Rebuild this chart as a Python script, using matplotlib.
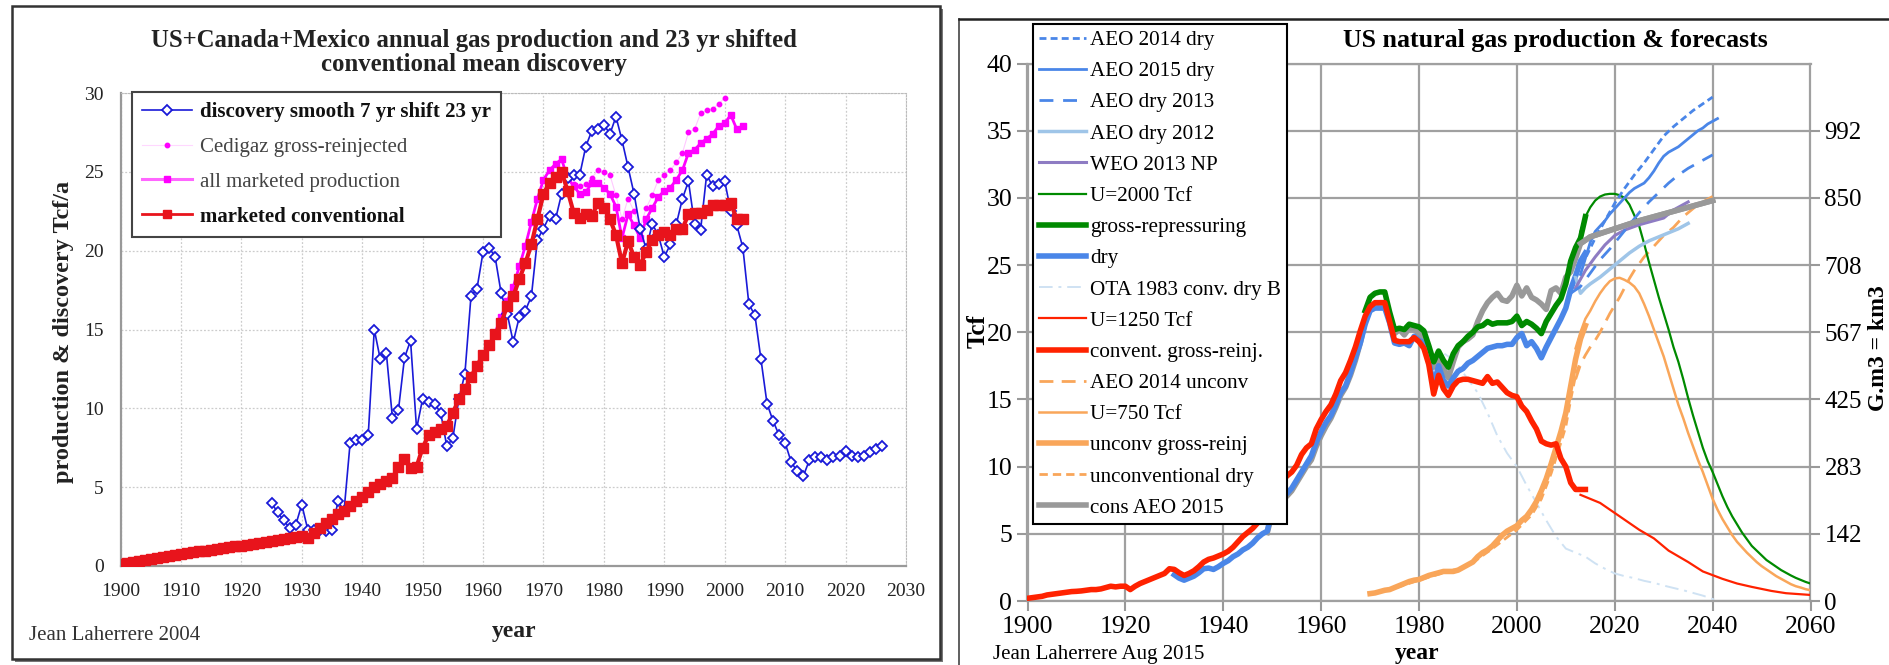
import numpy as np
import matplotlib
matplotlib.use("Agg")
import matplotlib.pyplot as plt
from matplotlib.lines import Line2D
from matplotlib.patches import Rectangle

plt.rcParams['font.family'] = ['Liberation Serif', 'DejaVu Serif']

# ---------------- LEFT PANEL DATA (Tcf/a) ----------------
disc_years = list(range(1925, 2027))
disc_vals = [4.0, 3.4, 2.9, 2.4, 2.6, 3.9, 2.3, 2.3, 2.3, 2.2,
             2.3, 4.1, 3.5, 7.8, 8.0, 8.0, 8.3, 15.0, 13.1, 13.5,
             9.4, 9.9, 13.2, 14.3, 8.7, 10.6, 10.4, 10.3, 9.7, 7.6,
             8.1, 10.6, 12.2, 17.1, 17.6, 19.9, 20.2, 19.6, 17.3, 16.0,
             14.2, 15.8, 16.2, 17.1, 20.7, 21.4, 22.2, 22.0, 23.6, 24.6,
             24.8, 24.8, 26.6, 27.6, 27.7, 28.0, 27.4, 28.5, 27.0, 25.3,
             23.6, 21.4, 20.1, 21.7, 21.0, 19.6, 20.4, 21.7, 23.3, 24.4,
             21.7, 21.3, 24.8, 24.1, 24.2, 24.4, 22.5, 21.6, 20.2, 16.6,
             15.9, 13.1, 10.3, 9.2, 8.3, 7.8, 6.6, 6.0, 5.7, 6.7,
             6.9, 6.9, 6.7, 6.9, 7.0, 7.3, 7.0, 6.9, 7.0, 7.2,
             7.4, 7.6]

conv_years = list(range(1900, 2004))
conv_vals = [0.15, 0.2, 0.27, 0.33, 0.4, 0.46, 0.52, 0.58, 0.64, 0.7,
             0.76, 0.82, 0.88, 0.93, 0.98, 1.03, 1.08, 1.13, 1.18, 1.24,
             1.3, 1.35, 1.41, 1.46, 1.52, 1.58, 1.64, 1.7, 1.77, 1.83,
             1.9, 1.8, 2.1, 2.4, 2.7, 3.0, 3.3, 3.5, 3.8, 4.1,
             4.4, 4.7, 5.0, 5.2, 5.4, 5.6, 6.3, 6.8, 6.2, 6.3,
             7.5, 8.3, 8.5, 8.7, 8.9, 9.7, 10.6, 11.2, 12.0, 12.7,
             13.4, 14.0, 14.7, 15.4, 16.5, 17.1, 18.2, 19.2, 20.4, 22.0,
             23.6, 24.3, 24.7, 25.0, 23.8, 22.4, 22.1, 22.3, 22.2, 23.0,
             22.7, 22.0, 21.0, 19.2, 20.6, 19.6, 19.1, 19.9, 20.7, 21.0,
             21.2, 21.0, 21.4, 21.4, 22.3, 22.4, 22.4, 22.6, 22.9, 22.9,
             22.9, 23.0, 22.0, 22.0]

allmkt_years = list(range(1962, 2004))
allmkt_vals = [14.8, 15.8, 16.8, 17.7, 19.0, 20.3, 21.8, 23.3, 24.5, 25.1,
               25.5, 25.8, 24.6, 24.1, 23.6, 23.7, 24.3, 24.3, 24.0, 23.6,
               22.8, 20.8, 22.3, 21.6, 20.8, 22.0, 22.7, 23.4, 23.8, 24.0,
               24.5, 25.1, 26.2, 26.4, 26.8, 27.1, 27.4, 27.9, 28.1, 28.6,
               27.7, 27.9]

cedigaz_years = list(range(1975, 2001))
cedigaz_vals = [24.2, 24.1, 24.2, 24.6, 25.1, 25.0, 24.8, 23.5, 22.0, 23.3,
                22.5, 21.5, 22.7, 23.5, 24.5, 24.8, 25.1, 25.6, 26.2, 27.5,
                27.7, 28.7, 28.9, 29.0, 29.3, 29.7]

left_xticks = list(range(1900, 2031, 10))
left_yticks = [0, 5, 10, 15, 20, 25, 30]

# ---------------- RIGHT PANEL DATA (Tcf) ----------------
red_years = list(range(1900, 2015))
red_vals = [0.2, 0.25, 0.3, 0.35, 0.45, 0.5, 0.55, 0.6, 0.65, 0.7,
            0.72, 0.75, 0.8, 0.85, 0.85, 0.9, 1.0, 1.1, 1.05, 1.1,
            1.1, 0.85, 1.1, 1.3, 1.45, 1.6, 1.75, 1.9, 2.05, 2.4,
            2.35, 2.1, 1.9, 2.05, 2.25, 2.55, 2.9, 3.1, 3.2, 3.35,
            3.5, 3.7, 4.0, 4.4, 4.8, 5.1, 5.4, 5.8, 6.1, 6.3,
            7.4, 8.4, 8.9, 9.3, 9.6, 10.1, 10.9, 11.4, 11.7, 12.8,
            13.5, 14.1, 14.6, 15.4, 16.4, 17.0, 17.9, 18.9, 20.1, 21.2,
            21.9, 22.2, 22.2, 22.2, 20.8, 19.4, 19.3, 19.3, 19.3, 19.6,
            19.3, 18.8, 17.6, 15.4, 16.8, 15.8, 15.3, 16.0, 16.4, 16.5,
            16.5, 16.4, 16.3, 16.2, 16.7, 16.2, 16.3, 15.9, 15.5, 15.3,
            15.2, 14.5, 14.1, 13.4, 12.8, 11.9, 11.7, 11.6, 11.7, 10.6,
            10.0, 8.8, 8.3, 8.3, 8.3]

dry_years = list(range(1930, 2015))
dry_vals = [1.95, 1.7, 1.55, 1.7, 1.85, 2.1, 2.4, 2.45, 2.35, 2.55,
            2.8, 3.0, 3.3, 3.5, 3.8, 4.0, 4.3, 4.7, 5.0, 5.2,
            6.8, 7.3, 7.7, 8.0, 8.4, 9.0, 9.6, 10.2, 10.8, 11.8,
            12.6, 13.3, 13.8, 14.6, 15.5, 16.0, 17.0, 18.1, 19.2, 20.6,
            21.6, 21.8, 21.8, 21.8, 20.7, 19.2, 19.1, 19.2, 19.0, 19.7,
            19.4, 19.2, 17.8, 16.1, 17.5, 16.4, 16.0, 16.6, 17.1, 17.3,
            17.7, 17.9, 18.2, 18.5, 18.8, 18.9, 19.0, 19.0, 19.1, 19.1,
            19.6, 19.9, 19.0, 19.3, 18.8, 18.1, 18.9, 19.6, 20.3, 21.0,
            21.8, 23.2, 24.2, 25.3, 25.9]

gross_years = list(range(1969, 2015))
gross_vals = [21.6, 22.6, 22.9, 23.0, 23.0, 21.5, 20.2, 20.3, 20.2, 20.6,
              20.5, 20.4, 20.1, 19.0, 17.8, 18.6, 17.9, 17.4, 18.4, 19.0,
              19.3, 19.7, 20.0, 20.4, 20.5, 20.8, 20.6, 20.7, 20.7, 20.7,
              20.8, 21.2, 20.5, 20.8, 20.6, 20.3, 19.9, 20.8, 21.4, 22.0,
              22.5, 23.6, 25.3, 26.3, 27.0, 28.6]

cons_years = list(range(1949, 2014)) + [2015, 2020, 2025, 2030, 2035, 2040]
cons_vals = [5.1, 6.5, 7.1, 7.5, 7.8, 8.2, 8.8, 9.4, 10.0, 10.5,
             11.5, 12.3, 13.0, 13.6, 14.4, 15.3, 15.9, 16.8, 17.9, 19.2,
             20.8, 21.7, 22.1, 22.2, 22.2, 21.0, 19.9, 20.2, 19.8, 20.3,
             20.2, 19.9, 19.6, 18.6, 17.4, 18.1, 17.3, 16.6, 17.8, 18.9,
             19.3, 19.5, 19.8, 20.8, 21.6, 22.2, 22.6, 22.9, 22.4, 22.3,
             22.7, 23.5, 22.7, 23.3, 22.6, 22.4, 22.1, 21.7, 23.1, 23.3,
             22.9, 24.1, 24.5, 25.5, 26.6,
             27.1, 27.7, 28.3, 28.8, 29.3, 29.8]

uncg_years = list(range(1970, 2015))
uncg_vals = [0.55, 0.6, 0.7, 0.8, 0.85, 1.0, 1.15, 1.3, 1.45, 1.55,
             1.6, 1.75, 1.9, 2.0, 2.1, 2.2, 2.2, 2.2, 2.3, 2.5,
             2.7, 2.9, 3.3, 3.6, 3.8, 4.1, 4.5, 4.9, 5.2, 5.4,
             5.6, 6.0, 6.3, 6.8, 7.4, 8.2, 9.1, 10.2, 11.4, 12.6,
             14.0, 16.0, 18.0, 19.5, 20.5]

uncdry_years = [1970, 1975, 1980, 1985, 1990, 1995, 2000, 2003, 2005, 2007,
                2009, 2010, 2011, 2012, 2013]
uncdry_vals = [0.5, 0.95, 1.55, 2.1, 2.6, 3.9, 5.3, 6.4, 7.6, 9.5,
               11.8, 13.0, 15.0, 16.8, 17.8]

u750_years = list(range(2012, 2061))
u750_vals = [18.8, 20.0, 21.0, 21.6, 22.3, 22.9, 23.4, 23.8, 24.0, 24.05,
             23.9, 23.7, 23.4, 22.9, 22.1, 21.2, 20.2, 19.2, 18.2, 17.0,
             15.8, 14.6, 13.6, 12.5, 11.5, 10.5, 9.6, 8.6, 7.6, 6.8,
             6.1, 5.5, 4.9, 4.4, 4.0, 3.6, 3.25, 2.9, 2.6, 2.35,
             2.1, 1.85, 1.65, 1.45, 1.25, 1.1, 1.0, 0.88, 0.8]

u2000_years = list(range(2013, 2061))
u2000_vals = [27.5, 28.6, 29.3, 29.8, 30.1, 30.25, 30.3, 30.3, 30.2, 30.0,
              29.5, 28.7, 27.9, 26.6, 25.2, 23.9, 22.6, 21.4, 20.2, 18.9,
              17.8, 16.5, 15.1, 13.8, 12.6, 11.4, 10.4, 9.6, 8.7, 7.8,
              7.0, 6.3, 5.7, 5.1, 4.6, 4.1, 3.75, 3.4, 3.05, 2.8,
              2.55, 2.3, 2.1, 1.9, 1.72, 1.57, 1.42, 1.3]

u1250_years = [2013, 2017, 2021, 2025, 2028, 2031, 2035, 2038, 2042, 2045,
               2048, 2052, 2055, 2060]
u1250_vals = [7.9, 7.3, 6.3, 5.3, 4.66, 3.75, 2.9, 2.2, 1.65, 1.3,
              1.05, 0.75, 0.58, 0.45]

ota_years = [1980, 1982, 1984, 1986, 1988, 1990, 1992, 1994, 1996, 1998,
             2000, 2002, 2004, 2006, 2008, 2010, 2012, 2014, 2016, 2018,
             2020, 2022, 2024, 2026, 2028, 2030, 2032, 2034, 2036, 2038,
             2040, 2041]
ota_vals = [19.3, 19.0, 18.7, 18.2, 17.5, 16.5, 15.5, 14.0, 12.3, 11.0,
            10.0, 8.6, 7.3, 6.0, 4.8, 3.9, 3.6, 3.3, 2.8, 2.4,
            2.05, 1.85, 1.7, 1.5, 1.35, 1.15, 0.97, 0.8, 0.6, 0.4,
            0.15, 0.0]

aeo15_years = list(range(2013, 2042))
aeo15_vals = [24.3, 25.5, 26.7, 27.5, 27.9, 28.3, 28.8, 29.2, 29.6, 30.0,
              30.4, 30.7, 30.9, 31.1, 31.5, 32.0, 32.6, 33.1, 33.4, 33.6,
              33.8, 34.1, 34.4, 34.7, 35.0, 35.2, 35.5, 35.7, 35.9]

aeo14_years = [2012, 2014, 2016, 2018, 2020, 2022, 2024, 2026, 2028, 2030,
               2032, 2034, 2036, 2038, 2040]
aeo14_vals = [24.2, 25.5, 27.0, 28.3, 29.6, 30.7, 31.7, 32.6, 33.6, 34.6,
              35.3, 35.9, 36.5, 37.0, 37.5]

aeo13_years = [2011, 2013, 2015, 2017, 2019, 2021, 2023, 2025, 2027, 2029,
               2031, 2033, 2035, 2037, 2040]
aeo13_vals = [22.9, 23.4, 24.4, 25.4, 26.2, 27.1, 28.0, 28.9, 29.7, 30.4,
              31.1, 31.7, 32.2, 32.6, 33.2]

aeo12_years = [2012, 2013, 2014, 2015, 2017, 2019, 2021, 2023, 2025, 2027,
               2029, 2031, 2033, 2035]
aeo12_vals = [24.1, 22.9, 23.3, 23.6, 24.1, 24.7, 25.3, 25.9, 26.4, 26.8,
              27.1, 27.4, 27.7, 28.1]

weo_years = [2012, 2014, 2016, 2018, 2020, 2022, 2025, 2030, 2032, 2035]
weo_vals = [23.3, 24.6, 25.6, 26.5, 27.2, 27.6, 28.0, 28.5, 29.1, 29.7]

aeo14u_years = list(range(2012, 2041))
aeo14u_vals = [16.5, 17.6, 18.3, 18.9, 19.4, 20.0, 20.7, 21.4, 22.0, 22.6,
               23.3, 24.0, 24.6, 25.1, 25.6, 26.0, 26.4, 26.8, 27.2, 27.5,
               27.8, 28.2, 28.6, 28.9, 29.2, 29.5, 29.7, 29.9, 30.1]

right_xticks = list(range(1900, 2061, 20))
right_yticks = [0, 5, 10, 15, 20, 25, 30, 35, 40]
gm3_ticks = [0, 5, 10, 15, 20, 25, 30, 35]
gm3_labels = ['0', '142', '283', '425', '567', '708', '850', '992']

# ---------------- FIGURE ----------------
W, H = 1890, 665
fig = plt.figure(figsize=(W / 100, H / 100), dpi=100)

def fx(px):
    return px / W

def fy(py):
    return 1 - py / H

# left frame with shadow (behind axes)
fig.patches.append(Rectangle((fx(15), fy(662)), fx(928), 653 / H, transform=fig.transFigure,
                             facecolor='#777777', edgecolor='none', zorder=-3))
fig.patches.append(Rectangle((fx(12), fy(659)), fx(928), 653 / H, transform=fig.transFigure,
                             facecolor='white', edgecolor='#333333', lw=1.8, zorder=-2))
# right separators
fig.add_artist(Line2D([fx(959), fx(959)], [0, fy(19)], transform=fig.transFigure,
                      color='#444444', lw=1.2))
fig.add_artist(Line2D([fx(959), 1], [fy(19), fy(19)], transform=fig.transFigure,
                      color='#222222', lw=1.8))

# ---------- left axes ----------
ax1 = fig.add_axes([fx(120.5), fy(566), fx(785.5), 473 / H])
ax1.patch.set_alpha(0)
ax1.set_xlim(1900, 2030)
ax1.set_ylim(0, 30)
ax1.set_xticks(left_xticks)
ax1.set_yticks(left_yticks)
ax1.tick_params(labelsize=14, length=0, pad=12)
for lab in ax1.get_xticklabels() + ax1.get_yticklabels():
    lab.set_color('#222222')
ax1.grid(True, color='#cccccc', lw=0.9, ls=(0, (1.5, 1.5)))
ax1.set_axisbelow(True)
for s in ['top', 'right']:
    ax1.spines[s].set_color('#bbbbbb')
    ax1.spines[s].set_linestyle((0, (1.5, 1.5)))
for s in ['left', 'bottom']:
    ax1.spines[s].set_color('#999999')
    ax1.spines[s].set_linewidth(1.6)

ax1.plot(cedigaz_years, cedigaz_vals, color='#ffc8ff', lw=0.8, marker='o', ms=3.2,
         mfc='#ff00ff', mec='#ff00ff', zorder=3)
ax1.plot(allmkt_years, allmkt_vals, color='#ff00ff', lw=2, marker='s', ms=4.5,
         mfc='#ff00ff', mec='#ff00ff', zorder=4)
ax1.plot(disc_years, disc_vals, color='#1a1ad8', lw=1.2, marker='D', ms=5,
         mfc='white', mec='#1a1ad8', mew=1.3, zorder=5)
ax1.plot(conv_years, conv_vals, color='#e8141c', lw=3, marker='s', ms=6.5,
         mfc='#e8141c', mec='#e8141c', zorder=6)

h1 = [Line2D([], [], color='#1a1ad8', lw=1.2, marker='D', ms=5, mfc='white', mec='#1a1ad8', mew=1.3),
      Line2D([], [], color='#ffd8ff', lw=0.8, marker='o', ms=3.2, mfc='#ff00ff', mec='#ff00ff'),
      Line2D([], [], color='#ff66ff', lw=2.2, marker='s', ms=5, mfc='#ff00ff', mec='#ff00ff'),
      Line2D([], [], color='#e8141c', lw=2, marker='s', ms=6, mfc='#e8141c', mec='#e8141c')]
l1 = ['discovery smooth 7 yr shift 23 yr', 'Cedigaz gross-reinjected',
      'all marketed production', 'marketed conventional']
leg1 = ax1.legend(h1, l1, loc='upper left', bbox_to_anchor=(fx(132), fy(92)),
                  bbox_transform=fig.transFigure, borderaxespad=0, fontsize=15,
                  frameon=True, fancybox=False, edgecolor='#444444', framealpha=1,
                  handlelength=2.4, handletextpad=0.35, labelspacing=0.72,
                  borderpad=0.5)
leg1.get_frame().set_linewidth(1.5)
for i, t in enumerate(leg1.get_texts()):
    if i in (0, 3):
        t.set_fontweight('bold')
        t.set_color('#111111')
    else:
        t.set_color('#444444')
leg1.set_zorder(10)

fig.text(fx(474), fy(40), 'US+Canada+Mexico annual gas production and 23 yr shifted',
         ha='center', va='center', fontsize=17.8, fontweight='bold', color='#222222')
fig.text(fx(474), fy(64.5), 'conventional mean discovery',
         ha='center', va='center', fontsize=17.8, fontweight='bold', color='#222222')
fig.text(fx(64), fy(332), 'production & discovery Tcf/a', rotation=90,
         ha='center', va='center', fontsize=17.5, fontweight='bold', color='#222222')
fig.text(fx(514), fy(632), 'year', ha='center', va='center', fontsize=17,
         fontweight='bold', color='#222222')
fig.text(fx(29), fy(635), 'Jean Laherrere 2004', ha='left', va='center',
         fontsize=15, color='#333333')

# ---------- right axes ----------
ax2 = fig.add_axes([fx(1027.5), fy(601), fx(783), 537.5 / H])
ax2.set_xlim(1900, 2060)
ax2.set_ylim(0, 40)
ax2.set_xticks(right_xticks)
ax2.set_yticks(right_yticks)
ax2.tick_params(labelsize=18.5, length=7, width=1.5, color='#999999', pad=4)
ax2.grid(True, color='#a0a0a0', lw=1.6)
ax2.set_axisbelow(True)
for s in ax2.spines.values():
    s.set_color('#a0a0a0')
    s.set_linewidth(1.6)

ax2r = ax2.twinx()
ax2r.set_ylim(0, 40)
ax2r.set_yticks(gm3_ticks)
ax2r.set_yticklabels(gm3_labels)
ax2r.tick_params(labelsize=18, length=7, width=1.5, color='#999999', pad=3)
for s in ax2r.spines.values():
    s.set_visible(False)

BL = '#4a86e8'
OR = '#f9a65a'
lines = {}
lines['ota'] = ax2.plot(ota_years, ota_vals, color='#cfe2f3', lw=1.4, ls=(0, (7, 3, 1.5, 3)), zorder=2)[0]
lines['uncdry'] = ax2.plot(uncdry_years, uncdry_vals, color=OR, lw=2, ls=(0, (3, 1.8)), zorder=3)[0]
lines['uncg'] = ax2.plot(uncg_years, uncg_vals, color=OR, lw=4, zorder=3)[0]
lines['u750'] = ax2.plot(u750_years, u750_vals, color=OR, lw=1.8, zorder=3)[0]
lines['aeo14u'] = ax2.plot(aeo14u_years, aeo14u_vals, color=OR, lw=2, ls=(0, (5, 3)), zorder=3)[0]
lines['cons'] = ax2.plot(cons_years, cons_vals, color='#999999', lw=4, zorder=4)[0]
lines['dry'] = ax2.plot(dry_years, dry_vals, color=BL, lw=4, zorder=5)[0]
lines['gross'] = ax2.plot(gross_years, gross_vals, color='#008a00', lw=4, zorder=5.5)[0]
lines['red'] = ax2.plot(red_years, red_vals, color='#ff2200', lw=4, zorder=6)[0]
lines['u1250'] = ax2.plot(u1250_years, u1250_vals, color='#ff2200', lw=1.6, zorder=6)[0]
lines['u2000'] = ax2.plot(u2000_years, u2000_vals, color='#008a00', lw=1.6, zorder=6)[0]
lines['aeo12'] = ax2.plot(aeo12_years, aeo12_vals, color='#9fc5e8', lw=2.5, zorder=6)[0]
lines['weo'] = ax2.plot(weo_years, weo_vals, color='#8e7cc3', lw=2.2, zorder=6)[0]
lines['aeo13'] = ax2.plot(aeo13_years, aeo13_vals, color=BL, lw=2, ls=(0, (5, 3.5)), zorder=6)[0]
lines['aeo15'] = ax2.plot(aeo15_years, aeo15_vals, color=BL, lw=2, zorder=6)[0]
lines['aeo14'] = ax2.plot(aeo14_years, aeo14_vals, color=BL, lw=2, ls=(0, (2.5, 1.5)), zorder=6)[0]
ax2.plot(cons_years[-7:], cons_vals[-7:], color='#999999', lw=4, zorder=7)

order = [('aeo14', 'AEO 2014 dry'), ('aeo15', 'AEO 2015 dry'), ('aeo13', 'AEO dry 2013'),
         ('aeo12', 'AEO dry 2012'), ('weo', 'WEO 2013 NP'), ('u2000', 'U=2000 Tcf'),
         ('gross', 'gross-repressuring'), ('dry', 'dry'), ('ota', 'OTA 1983 conv. dry B'),
         ('u1250', 'U=1250 Tcf'), ('red', 'convent. gross-reinj.'), ('aeo14u', 'AEO 2014 unconv'),
         ('u750', 'U=750 Tcf'), ('uncg', 'unconv gross-reinj'), ('uncdry', 'unconventional dry'),
         ('cons', 'cons AEO 2015')]
leg2 = fig.legend([lines[k] for k, _ in order], [l for _, l in order], loc='upper left',
                  bbox_to_anchor=(fx(1033), fy(24)), bbox_transform=fig.transFigure,
                  borderaxespad=0, fontsize=15.2, frameon=True, fancybox=False,
                  edgecolor='black', framealpha=1, handlelength=2.2, handletextpad=0.2,
                  labelspacing=0.54, borderpad=0.3)
leg2.get_frame().set_linewidth(1.5)
leg2.set_zorder(20)

fig.text(fx(1555), fy(41), 'US natural gas production & forecasts', ha='center', va='center',
         fontsize=18.6, fontweight='bold')
fig.text(fx(978), fy(331), 'Tcf', rotation=90, ha='center', va='center', fontsize=18,
         fontweight='bold')
fig.text(fx(1879), fy(348), 'G.m3 = km3', rotation=90, ha='center', va='center', fontsize=17,
         fontweight='bold')
fig.text(fx(1417), fy(653), 'year', ha='center', va='center', fontsize=17, fontweight='bold')
fig.text(fx(993), fy(655), 'Jean Laherrere Aug 2015', ha='left', va='center', fontsize=15)

fig.savefig('out.png', dpi=100)
